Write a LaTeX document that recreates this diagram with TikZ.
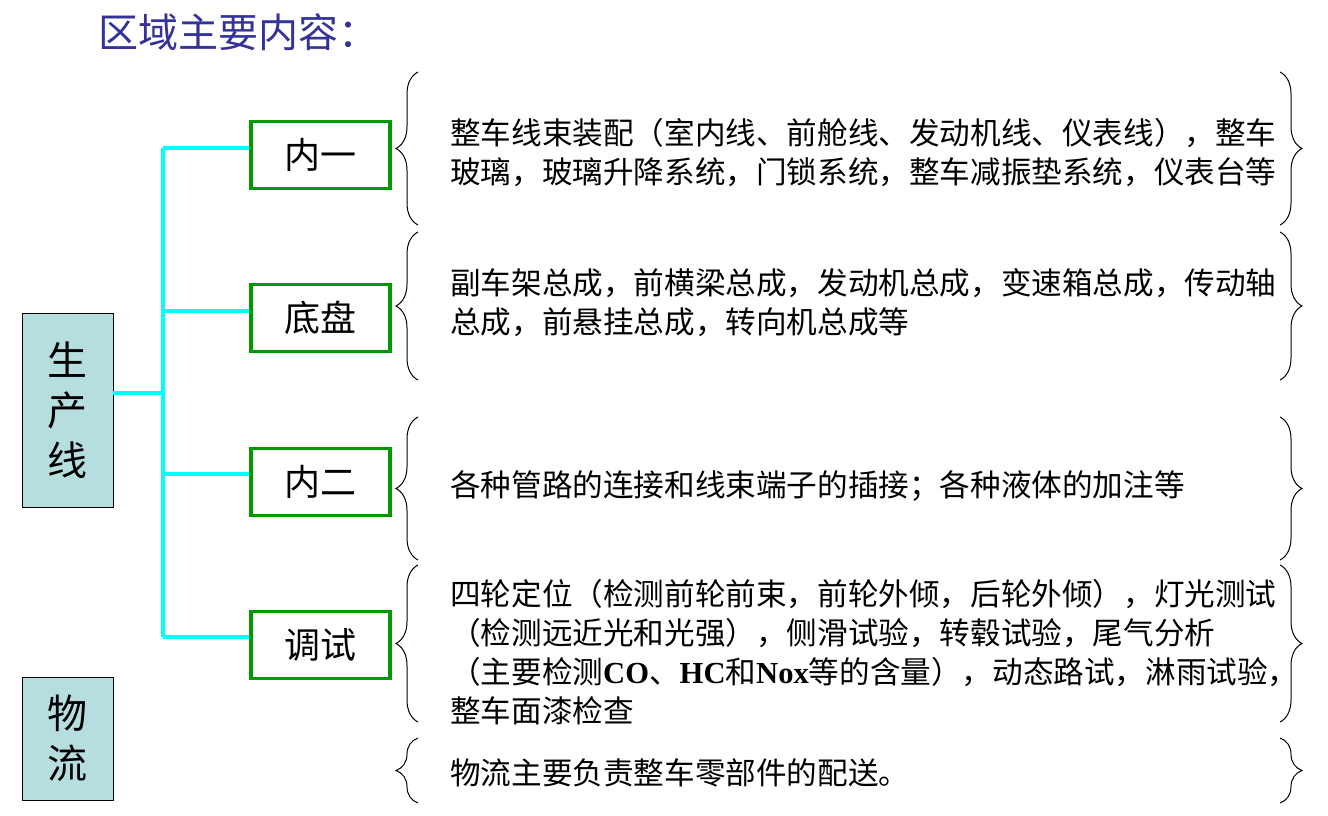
\documentclass[tikz,border=0pt]{standalone}
\usepackage{fontspec}
\setmainfont{Liberation Serif}
\newfontfamily\cjk{Noto Sans CJK SC}
\usetikzlibrary{decorations.pathreplacing}
\begin{document}
\begin{tikzpicture}[x=1pt,y=-1pt,
  side/.style={draw=black,fill={rgb,255:red,183;green,222;blue,222},minimum width=91pt,inner sep=0pt,font=\cjk\fontsize{40}{50}\selectfont,align=center},
  gbox/.style={draw={rgb,255:red,0;green,153;blue,0},line width=3.5pt,minimum width=139pt,minimum height=67pt,font=\cjk\fontsize{36}{40}\selectfont},
  cy/.style={draw={rgb,255:red,0;green,255;blue,255},line width=3.5pt},
  body/.style={anchor=west,align=left,font=\cjk\fontsize{30.6}{39}\selectfont,inner sep=0pt},
  lbrace/.style={decorate,decoration={brace,amplitude=22pt},line width=1pt},
]
\useasboundingbox (0,0) rectangle (1328,816);
\node[anchor=west,text={rgb,255:red,51;green,51;blue,153},font=\cjk\fontsize{40}{44}\selectfont] (title) at (95,32) {区域主要内容：};
\node[side,minimum height=194pt] (scx) at (67.5,410) {生\\产\\线};
\node[side,minimum height=123pt] (wl) at (67.5,738.5) {物\\流};
\node[gbox] (n1) at (320.5,155) {内一};
\node[gbox] (n2) at (320.5,318) {底盘};
\node[gbox] (n3) at (320.5,482) {内二};
\node[gbox] (n4) at (320.5,645) {调试};
\coordinate (j) at (163,393);
\draw[cy] (scx.east |- j) -- (j);
\draw[cy] (163,148) -- (163,637);
\draw[cy] (163,148) -- (n1.west |- 0,148);
\draw[cy] (163,311) -- (n2.west |- 0,311);
\draw[cy] (163,474) -- (n3.west |- 0,474);
\draw[cy] (163,637) -- (n4.west |- 0,637);
% braces
\foreach \a/\b in {72/225,232/380,417/560,565/722,738/803}{
  \draw[lbrace] (418,\b) -- (418,\a);
  \draw[lbrace] (1280,\a) -- (1280,\b);
}
\node[body] (t1) at (450,153) {整车线束装配（室内线、前舱线、发动机线、仪表线），整车\\玻璃，玻璃升降系统，门锁系统，整车减振垫系统，仪表台等};
\node[body] (t2) at (450,303) {副车架总成，前横梁总成，发动机总成，变速箱总成，传动轴\\总成，前悬挂总成，转向机总成等};
\node[body] (t3) at (450,486) {各种管路的连接和线束端子的插接；各种液体的加注等};
\node[body] (t4) at (450,652) {四轮定位（检测前轮前束，前轮外倾，后轮外倾），灯光测试\\（检测远近光和光强），侧滑试验，转毂试验，尾气分析\\（主要检测{\rmfamily\bfseries CO}、{\rmfamily\bfseries HC}和{\rmfamily\bfseries Nox}等的含量），动态路试，淋雨试验，\\整车面漆检查};
\node[body] (t5) at (450,773) {物流主要负责整车零部件的配送。};
\end{tikzpicture}
\end{document}
